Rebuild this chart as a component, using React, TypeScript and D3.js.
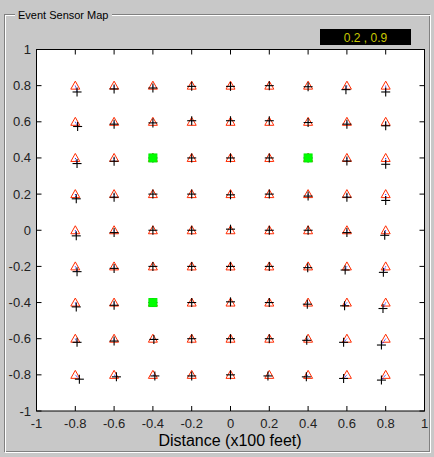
import React from "react";
import * as d3 from "d3";

const W = 434;
const H = 457;

const tickValues = [-1, -0.8, -0.6, -0.4, -0.2, 0, 0.2, 0.4, 0.6, 0.8, 1];
const tickLabels = ["-1", "-0.8", "-0.6", "-0.4", "-0.2", "0", "0.2", "0.4", "0.6", "0.8", "1"];

// true sensor grid positions
const sensorCols = [-0.8, -0.6, -0.4, -0.2, 0, 0.2, 0.4, 0.6, 0.8];
const sensorRows = [0.8, 0.6, 0.4, 0.2, 0, -0.2, -0.4, -0.6, -0.8];

// estimated positions (black plus), one row per sensorRows entry
const estX = [
  [-0.791, -0.6, -0.4, -0.2, 0, 0.2, 0.4, 0.595, 0.8],
  [-0.788, -0.6, -0.4, -0.2, 0, 0.2, 0.4, 0.6, 0.8],
  [-0.791, -0.6, -0.4, -0.2, 0, 0.2, 0.4, 0.6, 0.8],
  [-0.795, -0.6, -0.4, -0.2, 0, 0.2, 0.4, 0.6, 0.8],
  [-0.795, -0.6, -0.4, -0.2, 0, 0.2, 0.4, 0.6, 0.795],
  [-0.791, -0.6, -0.4, -0.2, 0, 0.2, 0.398, 0.591, 0.788],
  [-0.795, -0.6, -0.4, -0.2, 0, 0.2, 0.396, 0.588, 0.786],
  [-0.791, -0.6, -0.395, -0.2, 0, 0.2, 0.393, 0.583, 0.778],
  [-0.779, -0.588, -0.39, -0.2, 0, 0.193, 0.391, 0.583, 0.778],
];
const estY = [
  [0.765, 0.782, 0.787, 0.796, 0.796, 0.8, 0.794, 0.778, 0.765],
  [0.574, 0.587, 0.594, 0.606, 0.606, 0.606, 0.596, 0.587, 0.578],
  [0.369, 0.382, 0.4, 0.4, 0.4, 0.4, 0.4, 0.383, 0.365],
  [0.174, 0.183, 0.2, 0.2, 0.196, 0.2, 0.189, 0.183, 0.165],
  [-0.031, -0.013, 0, 0, 0.006, 0, 0, -0.013, -0.028],
  [-0.229, -0.211, -0.2, -0.2, -0.2, -0.2, -0.207, -0.22, -0.233],
  [-0.424, -0.415, -0.4, -0.4, -0.396, -0.4, -0.409, -0.418, -0.433],
  [-0.62, -0.613, -0.604, -0.6, -0.6, -0.6, -0.609, -0.62, -0.635],
  [-0.824, -0.811, -0.806, -0.806, -0.8, -0.806, -0.811, -0.82, -0.829],
];

// event sensors (green squares)
const eventX = [-0.4, 0.4, -0.4];
const eventY = [0.4, 0.4, -0.4];

const readout = "0.2 , 0.9";
const title = "Event Sensor Map";
const xLabel = "Distance (x100 feet)";

export default function App() {
  const x = d3.scaleLinear().domain([-1, 1]).range([36.5, 424.5]);
  const y = d3.scaleLinear().domain([-1, 1]).range([411, 49.5]);
  const [x0, x1] = x.range();
  const [yb, yt] = y.range();
  const font = "Arial, 'Liberation Sans', sans-serif";

  const points: { tx: number; ty: number; ex: number; ey: number }[] = [];
  sensorRows.forEach((ry, i) =>
    sensorCols.forEach((cx, j) => {
      points.push({ tx: cx, ty: ry, ex: estX[i][j], ey: estY[i][j] });
    })
  );

  const tri = d3.line()([
    [0, -4.5],
    [4.5, 3.5],
    [-4.5, 3.5],
    [0, -4.5],
  ]) as string;

  return (
    <div style={{ position: "absolute", left: 0, top: 0 }}>
      <svg width={W} height={H} style={{ display: "block" }}>
        <rect x={0} y={0} width={W} height={H} fill="#c8c8c8" />
        {/* group box */}
        <rect x={4.5} y={14.5} width={425} height={437} fill="none" stroke="#808080" />
        <rect x={5.5} y={15.5} width={425} height={437} fill="none" stroke="#ffffff" />
        <rect x={15} y={8} width={97} height={14} fill="#c8c8c8" />
        <text x={18} y={19} fontFamily={font} fontSize={11} fill="#000">
          {title}
        </text>
        {/* readout */}
        <rect x={320} y={29} width={91} height={16} fill="#000" />
        <text x={365.5} y={41.5} textAnchor="middle" fontFamily={font} fontSize={12} fill="#c8c800">
          {readout}
        </text>
        {/* plot area */}
        <rect x={x0} y={yt} width={x1 - x0} height={yb - yt} fill="#fff" stroke="#000" />
        {tickValues.map((v, i) => (
          <g key={"t" + i}>
            <line x1={x(v)} x2={x(v)} y1={yb} y2={yb - 5} stroke="#000" />
            <line x1={x(v)} x2={x(v)} y1={yt} y2={yt + 5} stroke="#000" />
            <line x1={x0} x2={x0 + 5} y1={y(v)} y2={y(v)} stroke="#000" />
            <line x1={x1} x2={x1 - 5} y1={y(v)} y2={y(v)} stroke="#000" />
            <text x={x(v)} y={428} textAnchor="middle" fontFamily={font} fontSize={13} fill="#222">
              {tickLabels[i]}
            </text>
            <text x={31} y={y(v) + 4.5} textAnchor="end" fontFamily={font} fontSize={13} fill="#222">
              {tickLabels[i]}
            </text>
          </g>
        ))}
        {/* true positions */}
        {points.map((p, i) => (
          <path
            key={"tr" + i}
            d={tri}
            transform={`translate(${x(p.tx)},${y(p.ty)})`}
            fill="none"
            stroke="#ff2a00"
            strokeWidth={1}
          />
        ))}
        {points.map((p, i) => (
          <line
            key={"bl" + i}
            x1={x(p.tx)}
            y1={y(p.ty)}
            x2={x(p.ex)}
            y2={y(p.ey)}
            stroke="#0000ff"
            strokeWidth={1}
            strokeDasharray="1,1"
          />
        ))}
        {points.map((p, i) => (
          <g key={"pl" + i} stroke="#000" strokeWidth={1.1}>
            <line x1={x(p.ex) - 4.5} x2={x(p.ex) + 4.5} y1={y(p.ey)} y2={y(p.ey)} />
            <line x1={x(p.ex)} x2={x(p.ex)} y1={y(p.ey) - 4.5} y2={y(p.ey) + 4.5} />
          </g>
        ))}
        {eventX.map((v, i) => (
          <rect key={"ev" + i} x={x(v) - 4} y={y(eventY[i]) - 4} width={8} height={8} fill="#00ff00" stroke="#00ee00" strokeWidth={1} />
        ))}
        <text x={230} y={446} textAnchor="middle" fontFamily={font} fontSize={16} fill="#000">
          {xLabel}
        </text>
      </svg>
    </div>
  );
}
